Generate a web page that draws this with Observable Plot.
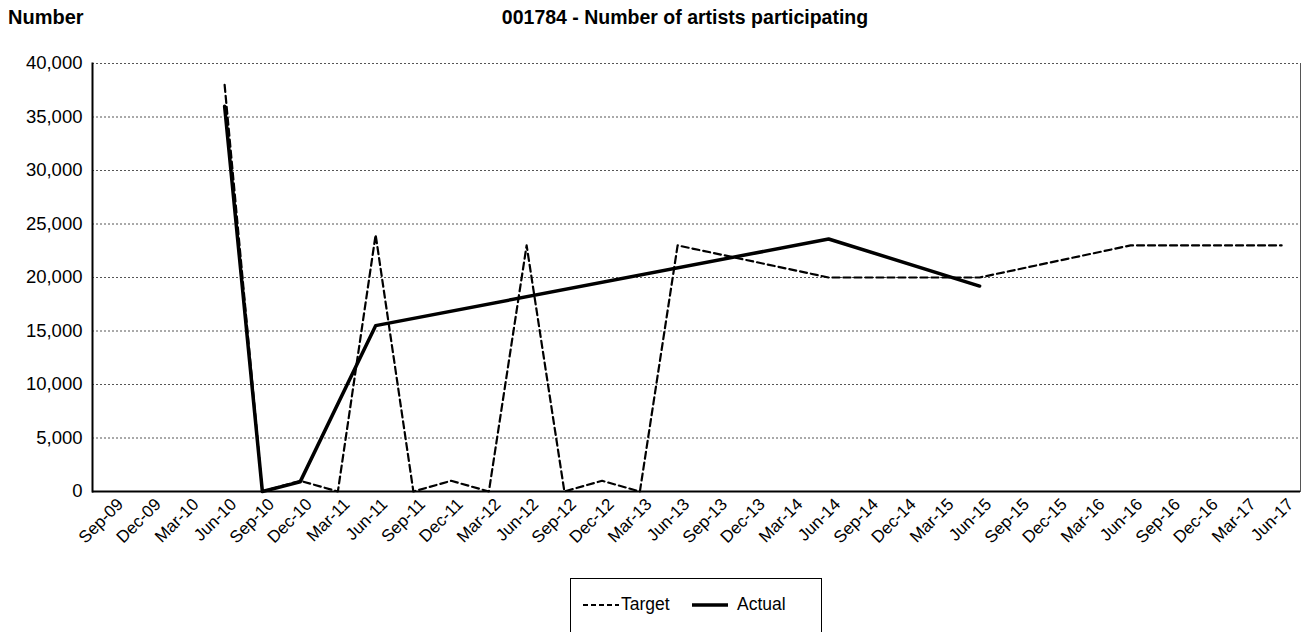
<!DOCTYPE html>
<html><head><meta charset="utf-8">
<script src="https://cdn.jsdelivr.net/npm/d3@7"></script>
<script src="https://cdn.jsdelivr.net/npm/@observablehq/plot@0.6"></script>
<style>
body{margin:0;background:#fff;font-family:"Liberation Sans",Arial,sans-serif;color:#000;}
#wrap{position:relative;width:1306px;height:632px;overflow:hidden;background:#fff}
#ylab{position:absolute;left:8px;top:6px;font-weight:bold;font-size:20px;line-height:22px}
#title{position:absolute;left:0;width:1370px;text-align:center;top:6px;font-weight:bold;font-size:19.5px;line-height:22px}
#chart{position:absolute;left:0;top:0}
#legend{position:absolute;left:570px;top:578px;width:252px;height:60px;border:1px solid #000;box-sizing:border-box;font-size:17.5px}
.sw{position:absolute;top:21px}
.tx{position:absolute;top:15px;line-height:20px}
</style></head>
<body>
<div id="wrap">
<div id="chart"></div>
<div id="ylab">Number</div>
<div id="title">001784 - Number of artists participating</div>
<div id="legend"></div>
</div>
<script>
const categories = ["Sep-09","Dec-09","Mar-10","Jun-10","Sep-10","Dec-10","Mar-11","Jun-11","Sep-11","Dec-11","Mar-12","Jun-12","Sep-12","Dec-12","Mar-13","Jun-13","Sep-13","Dec-13","Mar-14","Jun-14","Sep-14","Dec-14","Mar-15","Jun-15","Sep-15","Dec-15","Mar-16","Jun-16","Sep-16","Dec-16","Mar-17","Jun-17"];
const target = [null,null,null,38000,0,1000,0,24000,0,1000,0,23000,0,1000,0,23000,null,null,null,20000,null,null,null,20000,null,null,null,23000,null,null,null,23000];
const actual = [null,null,null,36000,0,900,null,15500,null,null,null,null,null,null,null,null,null,null,null,23600,null,null,null,19200,null,null,null,null,null,null,null,null];
const yTicks = [0,5000,10000,15000,20000,25000,30000,35000,40000];
const seriesNames = ["Target","Actual"];

const rowsT = categories.map((c,i)=>({c, v: target[i]})).filter(d=>d.v!=null);
const rowsA = categories.map((c,i)=>({c, v: actual[i]})).filter(d=>d.v!=null);

const chart = Plot.plot({
  width:1306, height:570,
  marginLeft:92, marginRight:6, marginTop:63, marginBottom:79,
  style:{fontFamily:'"Liberation Sans",Arial,sans-serif', fontSize:"16px", color:"#000", background:"#fff", overflow:"visible"},
  x:{type:"point", domain:categories, padding:0.5, round:false, label:null},
  y:{domain:[0,40000], label:null},
  marks:[
    Plot.ruleY(yTicks.filter(d=>d>0), {stroke:"#555", strokeWidth:1, strokeDasharray:"2,2"}),
    Plot.frame({anchor:"right", stroke:"#555", strokeWidth:1}),
    Plot.axisY({ticks:yTicks, tickFormat:d3.format(","), tickSize:0, tickPadding:10, fontSize:18.5, label:null}),
    Plot.axisX({tickSize:0, tickPadding:10, tickRotate:-45, fontSize:17, dx:9, label:null}),
    Plot.line(rowsT, {x:"c", y:"v", stroke:"#000", strokeWidth:2.2, strokeDasharray:"7,4"}),
    Plot.line(rowsA, {x:"c", y:"v", stroke:"#000", strokeWidth:3.5}),
    Plot.ruleY([0], {stroke:"#000", strokeWidth:2}),
    Plot.frame({anchor:"left", stroke:"#000", strokeWidth:2})
  ]
});
document.getElementById("chart").appendChild(chart);

const leg = document.getElementById("legend");
const styles = [{dash:"5,3", w:2.2}, {dash:null, w:3.5}];
const swLeft = [12, 121], txLeft = [50, 166];
seriesNames.forEach((n,i)=>{
  const s = document.createElement("div");
  s.className="sw"; s.style.left = swLeft[i]+"px";
  s.innerHTML = `<svg width="36" height="10" style="display:block"><line x1="0" x2="36" y1="5" y2="5" stroke="#000" stroke-width="${styles[i].w}" ${styles[i].dash?`stroke-dasharray="${styles[i].dash}"`:""}/></svg>`;
  leg.appendChild(s);
  const t = document.createElement("div");
  t.className="tx"; t.style.left = txLeft[i]+"px"; t.textContent = n;
  leg.appendChild(t);
});
</script>
</body></html>
